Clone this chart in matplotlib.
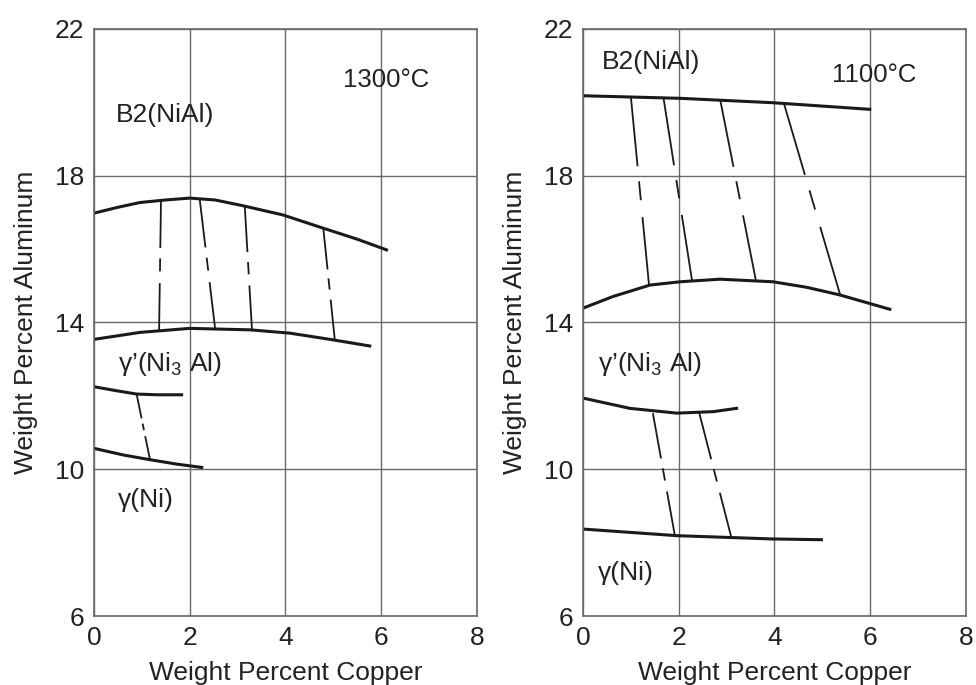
import numpy as np
import matplotlib.pyplot as plt

plt.rcParams['font.family'] = ['Liberation Sans', 'DejaVu Sans']
plt.rcParams['mathtext.fontset'] = 'custom'
plt.rcParams['mathtext.rm'] = 'Liberation Sans'

# ---- 1300 C section ----
b2_1300_cu = [0.0, 0.5, 0.96, 1.5, 2.0, 2.53, 3.12, 3.95, 4.79, 5.5, 6.11]
b2_1300_al = [16.98, 17.14, 17.27, 17.34, 17.39, 17.34, 17.18, 16.93, 16.57, 16.27, 15.98]
gp_hi_1300_cu = [0.0, 0.96, 2.0, 3.26, 4.09, 4.93, 5.76]
gp_hi_1300_al = [13.54, 13.73, 13.84, 13.80, 13.71, 13.54, 13.36]
gp_lo_1300_cu = [0.0, 0.47, 0.89, 1.31, 1.83]
gp_lo_1300_al = [12.25, 12.14, 12.05, 12.03, 12.03]
g_1300_cu = [0.0, 0.61, 1.17, 1.73, 2.25]
g_1300_al = [10.57, 10.39, 10.26, 10.14, 10.05]
# tie lines: (cu_top, al_top, cu_bottom, al_bottom)
ties_1300 = [
    (1.40, 17.34, 1.36, 13.80),
    (2.21, 17.34, 2.53, 13.84),
    (3.15, 17.16, 3.30, 13.80),
    (4.79, 16.57, 5.03, 13.53),
    (0.89, 12.05, 1.17, 10.26),
]

# ---- 1100 C section ----
b2_1100_cu = [0.0, 2.03, 3.97, 5.99]
b2_1100_al = [20.18, 20.11, 19.99, 19.81]
gp_hi_1100_cu = [0.0, 0.63, 1.40, 2.03, 2.86, 3.97, 4.67, 5.37, 6.41]
gp_hi_1100_al = [14.39, 14.71, 15.02, 15.11, 15.18, 15.11, 14.96, 14.75, 14.36]
gp_lo_1100_cu = [0.0, 0.98, 1.96, 2.72, 3.21]
gp_lo_1100_al = [11.94, 11.66, 11.53, 11.57, 11.66]
g_1100_cu = [0.0, 1.96, 3.97, 4.98]
g_1100_al = [8.37, 8.19, 8.10, 8.08]
ties_1100 = [
    (1.00, 20.16, 1.38, 15.02),
    (1.68, 20.14, 2.28, 15.13),
    (2.87, 20.05, 3.61, 15.16),
    (4.20, 19.96, 5.38, 14.72),
    (1.46, 11.53, 1.92, 8.19),
    (2.43, 11.53, 3.10, 8.14),
]

x_ticks = [0, 2, 4, 6, 8]
y_ticks = [6, 10, 14, 18, 22]

GRID = '#6a6a6a'
INK = '#1a1a1a'
TXT = '#222222'


def draw_tie(ax, tie):
    x0, y0, x1, y1 = tie
    # long solid piece, short dash, long solid piece
    for a, b in [(0.0, 0.37), (0.45, 0.55), (0.64, 1.0)]:
        ax.plot([x0 + a * (x1 - x0), x0 + b * (x1 - x0)],
                [y0 + a * (y1 - y0), y0 + b * (y1 - y0)],
                color=INK, lw=1.3, solid_capstyle='butt')


def setup(ax):
    ax.set_xlim(0, 8)
    ax.set_ylim(6, 22)
    ax.set_xticks(x_ticks)
    ax.set_yticks(y_ticks)
    ax.grid(True, color=GRID, lw=1.0)
    ax.set_axisbelow(True)
    ax.tick_params(length=0, labelsize=19, colors=TXT, pad=7)
    for s in ax.spines.values():
        s.set_color(GRID)
        s.set_linewidth(1.2)
    ax.set_xlabel('Weight Percent Copper', fontsize=19, color=TXT, labelpad=8)
    ax.set_ylabel('Weight Percent Aluminum', fontsize=19, color=TXT, labelpad=12)


fig = plt.figure(figsize=(9.76, 6.85), dpi=100)
ax1 = fig.add_axes([0.0963, 0.1007, 0.3924, 0.857])
ax2 = fig.add_axes([0.5973, 0.1007, 0.3924, 0.857])

for ax in (ax1, ax2):
    setup(ax)

# left panel
ax1.plot(b2_1300_cu, b2_1300_al, color=INK, lw=2.2)
ax1.plot(gp_hi_1300_cu, gp_hi_1300_al, color=INK, lw=2.2)
ax1.plot(gp_lo_1300_cu, gp_lo_1300_al, color=INK, lw=2.2)
ax1.plot(g_1300_cu, g_1300_al, color=INK, lw=2.2)
for t in ties_1300:
    draw_tie(ax1, t)
ax1.text(5.2, 20.6, '1300°C', fontsize=18.5, va='center', color=TXT)
ax1.text(0.45, 19.65, 'B2(NiAl)', fontsize=19, va='center', color=TXT)
ax1.text(0.5, 12.86, 'γ’(Ni$_3$ Al)', fontsize=19, va='center', color=TXT)
ax1.text(0.5, 9.17, 'γ(Ni)', fontsize=19, va='center', color=TXT)

# right panel
ax2.plot(b2_1100_cu, b2_1100_al, color=INK, lw=2.2)
ax2.plot(gp_hi_1100_cu, gp_hi_1100_al, color=INK, lw=2.2)
ax2.plot(gp_lo_1100_cu, gp_lo_1100_al, color=INK, lw=2.2)
ax2.plot(g_1100_cu, g_1100_al, color=INK, lw=2.2)
for t in ties_1100:
    draw_tie(ax2, t)
ax2.text(5.2, 20.75, '1100°C', fontsize=18.5, va='center', color=TXT)
ax2.text(0.4, 21.1, 'B2(NiAl)', fontsize=19, va='center', color=TXT)
ax2.text(0.31, 12.86, 'γ’(Ni$_3$ Al)', fontsize=19, va='center', color=TXT)
ax2.text(0.31, 7.18, 'γ(Ni)', fontsize=19, va='center', color=TXT)

fig.savefig('out.png', dpi=100)
